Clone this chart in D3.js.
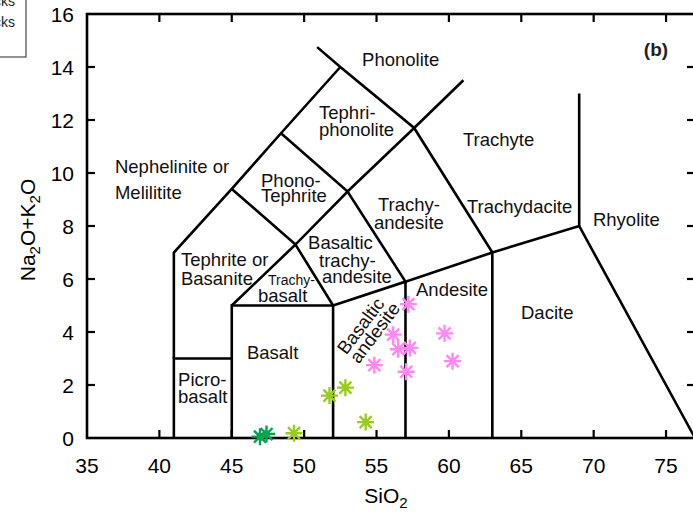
<!DOCTYPE html>
<html><head><meta charset="utf-8">
<script src="https://cdn.jsdelivr.net/npm/d3@7"></script>
<style>
body{margin:0;background:#fff;}
svg{display:block;font-family:"Liberation Sans",Arial,sans-serif;}
</style></head>
<body><svg id="c" width="693" height="512"></svg>
<script>
// ---- data ----
const xTicks = [35,40,45,50,55,60,65,70,75];
const yTicks = [0,2,4,6,8,10,12,14,16];
const boundaries = [
  [[41,0],[41,3],[45,3]],
  [[41,3],[41,7],[45,9.4],[48.4,11.5],[52.5,14]],
  [[45,0],[45,5],[52,5],[52,0]],
  [[52,5],[57,5.9],[57,0]],
  [[57,5.9],[63,7],[63,0]],
  [[69,8],[69,13]],
  [[45,5],[49.4,7.3],[52,5]],
  [[45,9.4],[49.4,7.3],[53,9.3],[57,5.9]],
  [[48.4,11.5],[53,9.3],[57.6,11.7],[61,13.5]],
  [[50.9,14.75],[52.5,14],[57.6,11.7],[63,7],[69,8],[77,0]]
];
const groupA = [[46.95,0.05],[47.4,0.15]];                       // dark green
const groupB = [[49.3,0.18],[51.75,1.6],[52.85,1.9],[54.25,0.6]]; // yellow-green
const groupC = [[57.2,5.05],[56.15,3.9],[56.5,3.35],[57.3,3.4],[54.85,2.75],[57.05,2.5],[59.7,3.95],[60.25,2.9]]; // pink
const labels = [
  {t:"Phonolite", x:54.0, y:14.04, a:"start"},
  {t:"Tephri-", x:51.03, y:12.04, a:"start"},
  {t:"phonolite", x:51.03, y:11.4, a:"start"},
  {t:"Trachyte", x:60.97, y:11.02, a:"start"},
  {t:"Nephelinite or", x:36.93, y:10.0, a:"start"},
  {t:"Melilitite", x:36.93, y:9.02, a:"start"},
  {t:"Phono-", x:47.02, y:9.47, a:"start"},
  {t:"Tephrite", x:47.02, y:8.9, a:"start"},
  {t:"Trachy-", x:57.24, y:8.57, a:"middle"},
  {t:"andesite", x:57.24, y:7.89, a:"middle"},
  {t:"Trachydacite", x:61.25, y:8.49, a:"start"},
  {t:"Rhyolite", x:69.95, y:8.0, a:"start"},
  {t:"Tephrite or", x:41.49, y:6.49, a:"start"},
  {t:"Basanite", x:41.49, y:5.77, a:"start"},
  {t:"Basaltic", x:50.27, y:7.13, a:"start"},
  {t:"trachy-", x:51.03, y:6.45, a:"start"},
  {t:"andesite", x:51.23, y:5.85, a:"start"},
  {t:"basalt", x:46.81, y:5.13, a:"start"},
  {t:"Andesite", x:57.73, y:5.36, a:"start"},
  {t:"Dacite", x:64.98, y:4.49, a:"start"},
  {t:"Basalt", x:46.05, y:2.98, a:"start"},
  {t:"Picro-", x:41.29, y:1.96, a:"start"},
  {t:"basalt", x:41.29, y:1.32, a:"start"}
];
const smallLabels = [{t:"Trachy-", x:47.5, y:5.77}];
const rotLabels = [{t:"Basaltic", x:54.26, y:4.09},{t:"andesite", x:55.23, y:3.83}];
const legendTexts = ["Plutonic rocks","Volcanic rocks"];

// ---- chart ----
const svg = d3.select("#c");
const x = d3.scaleLinear().domain([35,77]).range([87,695]);
const y = d3.scaleLinear().domain([0,16]).range([438,14]);
const line = d3.line().x(d=>x(d[0])).y(d=>y(d[1]));

// legend box (cut off)
svg.append("rect").attr("x",-120).attr("y",-10).attr("width",146).attr("height",67)
  .attr("fill","#fff").attr("stroke","#555").attr("stroke-width",1.3);
legendTexts.forEach((t,i)=>svg.append("text").attr("x",15).attr("y",6+i*21)
  .attr("text-anchor","end").attr("font-size",14).attr("fill","#222").text(t));

// boundaries
svg.append("g").selectAll("path").data(boundaries).join("path")
  .attr("d",line).attr("fill","none").attr("stroke","#000").attr("stroke-width",2.6)
  .attr("stroke-linejoin","miter");

// frame
svg.append("rect").attr("x",x(35)).attr("y",y(16)).attr("width",x(77)-x(35)).attr("height",y(0)-y(16))
  .attr("fill","none").attr("stroke","#000").attr("stroke-width",2.6);

// ticks
const tk = 8;
const gt = svg.append("g").attr("stroke","#000").attr("stroke-width",2.2);
xTicks.filter(v=>v>35).forEach(v=>{
  gt.append("line").attr("x1",x(v)).attr("x2",x(v)).attr("y1",y(0)).attr("y2",y(0)-tk);
  gt.append("line").attr("x1",x(v)).attr("x2",x(v)).attr("y1",y(16)).attr("y2",y(16)+tk);
});
yTicks.filter(v=>v>0&&v<16).forEach(v=>{
  gt.append("line").attr("x1",x(35)).attr("x2",x(35)+tk).attr("y1",y(v)).attr("y2",y(v));
  gt.append("line").attr("x1",x(77)).attr("x2",x(77)-tk).attr("y1",y(v)).attr("y2",y(v));
});

// tick labels
svg.append("g").selectAll("text").data(xTicks).join("text")
  .attr("x",d=>x(d)).attr("y",473).attr("text-anchor","middle").attr("font-size",21).text(d=>d);
svg.append("g").selectAll("text").data(yTicks).join("text")
  .attr("x",74).attr("y",d=>y(d)+7.5).attr("text-anchor","end").attr("font-size",21).text(d=>d);

// axis titles
const xt = svg.append("text").attr("x",386).attr("y",503).attr("text-anchor","middle").attr("font-size",21);
xt.append("tspan").text("SiO");
xt.append("tspan").attr("font-size",15).attr("dy",5).text("2");
const yt = svg.append("text").attr("transform","translate(35,230) rotate(-90)").attr("text-anchor","middle").attr("font-size",21);
yt.append("tspan").text("Na");
yt.append("tspan").attr("font-size",15).attr("dy",5).text("2");
yt.append("tspan").attr("dy",-5).text("O+K");
yt.append("tspan").attr("font-size",15).attr("dy",5).text("2");
yt.append("tspan").attr("dy",-5).text("O");

// region labels
svg.append("g").selectAll("text").data(labels).join("text")
  .attr("x",d=>x(d.x)).attr("y",d=>y(d.y)).attr("text-anchor",d=>d.a)
  .attr("font-size",18.5).attr("fill","#111").text(d=>d.t);
svg.append("g").selectAll("text").data(smallLabels).join("text")
  .attr("x",d=>x(d.x)).attr("y",d=>y(d.y)).attr("font-size",14).attr("fill","#111").text(d=>d.t);
svg.append("g").selectAll("text").data(rotLabels).join("text")
  .attr("transform",d=>`translate(${x(d.x)},${y(d.y)}) rotate(-53)`).attr("text-anchor","middle")
  .attr("font-size",18.5).attr("fill","#111").text(d=>d.t);

svg.append("text").attr("x",656).attr("y",56).attr("text-anchor","middle")
  .attr("font-size",19).attr("font-weight","bold").attr("fill","#222").text("(b)");

// markers (asterisks)
function star(r){
  const a=[]; for(let i=0;i<4;i++){const t=i*Math.PI/4;a.push(`M${-r*Math.cos(t)},${-r*Math.sin(t)}L${r*Math.cos(t)},${r*Math.sin(t)}`);} return a.join("");
}
function plot(data,color){
  svg.append("g").selectAll("path").data(data).join("path")
    .attr("transform",d=>`translate(${x(d[0])},${y(d[1])})`).attr("d",star(8.5))
    .attr("stroke",color).attr("stroke-width",2.4).attr("fill","none");
}
plot(groupC,"#ff88f6");
plot(groupB,"#99cc1c");
plot(groupA,"#00a550");
</script></body></html>
